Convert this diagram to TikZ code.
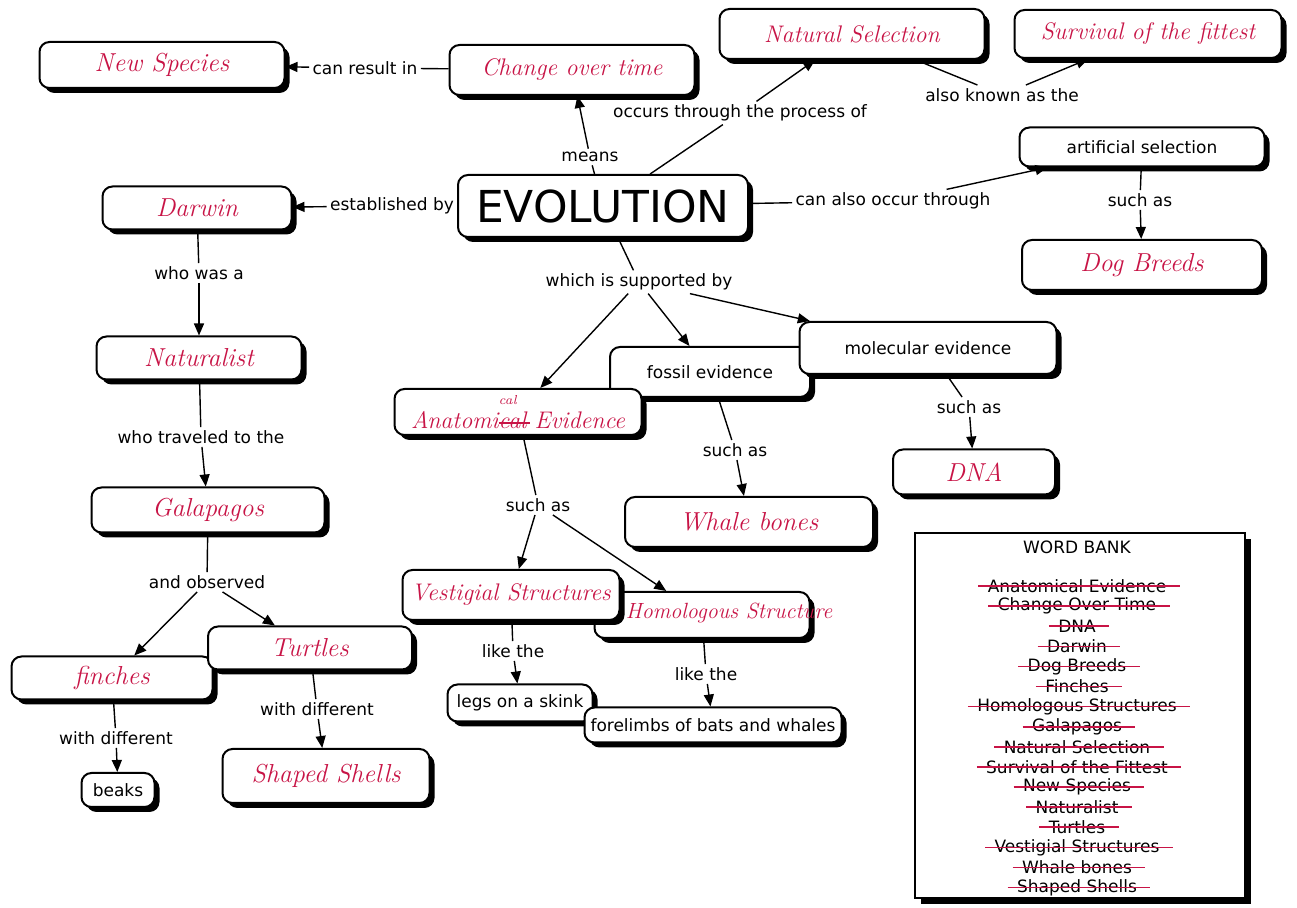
\documentclass[tikz,border=0pt]{standalone}
\usepackage{fontspec}
\setsansfont{DejaVu Sans}
\renewcommand{\familydefault}{\sfdefault}
\usetikzlibrary{arrows.meta,shadows}
\definecolor{ink}{RGB}{200,20,70}

\tikzset{
  box/.style={draw, line width=1pt, rounded corners=5pt, fill=white, inner sep=2pt,
    drop shadow={shadow xshift=2.5pt, shadow yshift=-2.5pt, opacity=1, fill=black}},
  hand/.style={box, text=ink, font=\rmfamily\itshape\fontsize{13}{15}\selectfont},
  handsm/.style={box, text=ink, font=\rmfamily\itshape\fontsize{12}{14}\selectfont},
  handtxt/.style={inner sep=0pt, text=ink, font=\rmfamily\itshape\fontsize{11}{13}\selectfont},
  print/.style={box, font=\fontsize{8.5}{10}\selectfont},
  lbl/.style={inner sep=1.5pt, font=\fontsize{8.5}{10}\selectfont},
  con/.style={line width=0.7pt},
  arr/.style={con, -{Triangle[length=6pt,width=5pt]}},
  strike/.style={ink, line width=0.8pt},
  wbank/.style={draw, line width=1pt, fill=white,
    drop shadow={shadow xshift=3pt, shadow yshift=-3pt, opacity=1, fill=black}}
}

\begin{document}
\begin{tikzpicture}[x=0.5pt, y=-0.5pt]
\useasboundingbox (0,0) rectangle (1297,908);

\node[hand, minimum width=122.5pt, minimum height=23pt] (newsp) at (162,65) {New Species};
\node[handsm, minimum width=122.5pt, minimum height=25pt] (cot) at (572,70) {Change over time};
\node[handsm, minimum width=132.5pt, minimum height=25pt] (natsel) at (852,34) {Natural Selection};
\node[handsm, minimum width=133.5pt, minimum height=24pt] (surv) at (1148,34) {Survival of the fittest};
\node[box, minimum width=145pt, minimum height=31pt, font=\fontsize{22}{24}\selectfont] (evo) at (603,206) {EVOLUTION};
\node[hand, minimum width=94.5pt, minimum height=21.5pt] (darwin) at (197,208) {Darwin};
\node[print, minimum width=122.5pt, minimum height=19.5pt] (artsel) at (1142,147) {artificial selection};
\node[hand, minimum width=120pt, minimum height=25pt] (dog) at (1142,265) {Dog Breeds};
\node[hand, minimum width=102.5pt, minimum height=21.5pt] (natlst) at (199,358) {Naturalist};

\node[print, minimum width=100pt, minimum height=25pt] (fossil) at (710,372) {fossil evidence};
\node[print, minimum width=128.5pt, minimum height=26pt] (molec) at (928,348) {molecular evidence};
\node[handsm, minimum width=123.5pt, minimum height=23pt] (anat) at (518,412)
  {Anatomi\rlap{\raisebox{2.3ex}{\fontsize{6.5}{7}\selectfont cal}}\rlap{\rule[0.45ex]{1.3em}{0.6pt}}cal Evidence};
\node[hand, minimum width=81pt, minimum height=22.5pt] (dna) at (974,472) {DNA};
\node[hand, minimum width=124pt, minimum height=25pt] (whale) at (749,522) {Whale bones};

\node[box, minimum width=107.5pt, minimum height=23pt] (homol) at (702,615) {};
\node[handsm, minimum width=108.5pt, minimum height=25pt] (vest) at (511,595) {Vestigial Structures};
\node[handtxt] (homolt) at (729,613) {Homologous Structure};
\node[print, minimum width=72.5pt, minimum height=18.5pt] (legs) at (520,703) {legs on a skink};
\node[print, minimum width=128.5pt, minimum height=17.5pt] (fore) at (713,725) {forelimbs of bats and whales};

\node[hand, minimum width=116.5pt, minimum height=22.5pt] (gal) at (208,510) {Galapagos};
\node[hand, minimum width=100.5pt, minimum height=21.5pt] (finch) at (112,678) {finches};
\node[hand, minimum width=102pt, minimum height=21.5pt] (turt) at (310,648) {Turtles};
\node[print, minimum width=36.5pt, minimum height=17pt] (beaks) at (118,790) {beaks};
\node[hand, minimum width=103.5pt, minimum height=27pt] (shells) at (326,776) {Shaped Shells};

\node[lbl] (lcan) at (365,68) {can result in};
\node[lbl] (lmeans) at (590,157) {means};
\node[lbl] (loccurs) at (740,113) {occurs through the process of};
\node[lbl] (laka) at (1002,95) {also known as the};
\node[lbl] (lest) at (392,206) {established by};
\node[lbl] (lalso) at (893,201) {can also occur through};
\node[lbl] (lsuchA) at (1140,200) {such as};
\node[lbl] (lwho) at (199,273) {who was a};
\node[lbl] (ltrav) at (201,437) {who traveled to the};
\node[lbl] (lobs) at (207,582) {and observed};
\node[lbl] (lwdA) at (116,738) {with different};
\node[lbl] (lwdB) at (317,709) {with different};
\node[lbl] (lsup) at (639,282) {which is supported by};
\node[lbl] (lsuchB) at (735,450) {such as};
\node[lbl] (lsuchC) at (969,407) {such as};
\node[lbl] (lsuchD) at (538,505) {such as};
\node[lbl] (llikeA) at (513,651) {like the};
\node[lbl] (llikeB) at (706,674) {like the};

\draw[con] (cot) -- (lcan); \draw[arr] (lcan) -- (newsp);
\draw[con] (evo) -- (lmeans); \draw[arr] (lmeans) -- (cot);
\draw[con] (evo) -- (loccurs); \draw[arr] (loccurs) -- (natsel);
\draw[con] (natsel) -- (laka); \draw[arr] (laka) -- (surv);
\draw[con] (evo) -- (lest); \draw[arr] (lest) -- (darwin);
\draw[con] (evo) -- (lalso); \draw[arr] (lalso) -- (artsel);
\draw[con] (artsel) -- (lsuchA); \draw[arr] (lsuchA) -- (dog);
\draw[con] (darwin) -- (lwho); \draw[arr] (lwho) -- (natlst);
\draw[con] (natlst) -- (ltrav); \draw[arr] (ltrav) -- (gal);
\draw[con] (gal) -- (lobs); \draw[arr] (lobs) -- (finch); \draw[arr] (lobs) -- (turt);
\draw[con] (finch) -- (lwdA); \draw[arr] (lwdA) -- (beaks);
\draw[con] (turt) -- (lwdB); \draw[arr] (lwdB) -- (shells);
\draw[con] (evo) -- (lsup);
\draw[arr] (lsup) -- (anat); \draw[arr] (lsup) -- (fossil); \draw[arr] (lsup) -- (molec);
\draw[con] (fossil) -- (lsuchB); \draw[arr] (lsuchB) -- (whale);
\draw[con] (molec) -- (lsuchC); \draw[arr] (lsuchC) -- (dna);
\draw[con] (anat) -- (lsuchD); \draw[arr] (lsuchD) -- (vest); \draw[arr] (lsuchD) -- (homol);
\draw[con] (vest) -- (llikeA); \draw[arr] (llikeA) -- (legs);
\draw[con] (homol) -- (llikeB); \draw[arr] (llikeB) -- (fore);

\node[wbank, minimum width=165pt, minimum height=182.5pt] (bank) at (1080,715.5) {};
\node[lbl] (wbt) at (1077,547) {WORD BANK};
\foreach \w [count=\i] in {Anatomical Evidence, Change Over Time, DNA, Darwin, Dog Breeds,
    Finches, Homologous Structures, Galapagos, Natural Selection, Survival of the Fittest,
    New Species, Naturalist, Turtles, Vestigial Structures, Whale bones, Shaped Shells}
{
  \node[lbl] (wb\i) at (1077,{566+20.1*\i}) {\w};
  \draw[strike] ([xshift=-3pt]wb\i.west) -- ([xshift=5pt]wb\i.east);
}
\end{tikzpicture}
\end{document}
